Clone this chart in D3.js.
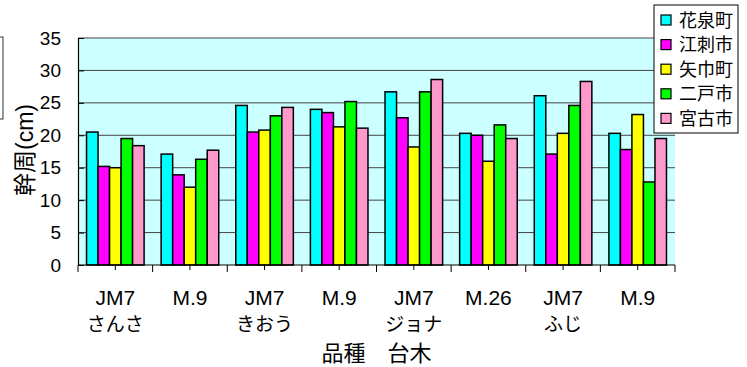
<html>
<head>
<meta charset="utf-8">
<script src="https://d3js.org/d3.v7.min.js"></script>
<style>
  body { margin: 0; background: #fff; }
  text { font-family: "Liberation Sans", "Noto Sans CJK JP", sans-serif; fill: #000; }
</style>
</head>
<body>
<svg id="chart" width="747" height="367"></svg>
<script>
// categories: rootstock (line 1) and variety (line 2)
var rootstocks = ["JM7", "M.9", "JM7", "M.9", "JM7", "M.26", "JM7", "M.9"];
var varieties  = ["さんさ", "", "きおう", "", "ジョナ", "", "ふじ", ""];
var seriesNames = ["花泉町", "江刺市", "矢巾町", "二戸市", "宮古市"];
var seriesColors = ["#00ffff", "#ff00ff", "#ffff00", "#00ff00", "#ff99cc"];

var hanaizumi = [20.5, 17.1, 24.6, 24.0, 26.7, 20.3, 26.1, 20.3];
var esashi    = [15.2, 13.9, 20.5, 23.5, 22.7, 20.0, 17.1, 17.8];
var yahaba    = [15.0, 12.0, 20.8, 21.3, 18.2, 16.0, 20.3, 23.2];
var ninohe    = [19.5, 16.3, 23.0, 25.2, 26.7, 21.6, 24.6, 12.8];
var miyako    = [18.4, 17.7, 24.3, 21.1, 28.6, 19.5, 28.3, 19.5];

var yTicks = [0, 5, 10, 15, 20, 25, 30, 35];

var seriesValues = [hanaizumi, esashi, yahaba, ninohe, miyako];
var catIdx = d3.range(rootstocks.length);

var svg = d3.select("#chart");
var plotLeft = 78, plotRight = 675, plotTop = 38, plotBottom = 265;

var x0 = d3.scaleBand().domain(catIdx).range([plotLeft, plotRight]).paddingInner(0).paddingOuter(0);
var x1 = d3.scaleBand().domain(d3.range(seriesNames.length)).range([0, x0.bandwidth()]).paddingInner(0).paddingOuter(0.74);
var y = d3.scaleLinear().domain([0, 35]).range([plotBottom, plotTop]);

// clipped box at far left
svg.append("rect")
  .attr("x", -10).attr("y", 37)
  .attr("width", 13).attr("height", 82)
  .attr("fill", "#fff").attr("stroke", "#333").attr("stroke-width", 1);

// plot background
svg.append("rect")
  .attr("x", plotLeft).attr("y", plotTop)
  .attr("width", plotRight - plotLeft).attr("height", plotBottom - plotTop)
  .attr("fill", "#ccffff");

// gridlines
svg.append("g")
  .selectAll("line")
  .data(yTicks.filter(function(d) { return d > 0; }))
  .enter().append("line")
    .attr("x1", plotLeft).attr("x2", plotRight)
    .attr("y1", function(d) { return y(d); })
    .attr("y2", function(d) { return y(d); })
    .attr("stroke", "#444")
    .attr("stroke-width", 1);

// bars
svg.append("g")
  .selectAll("g")
  .data(seriesValues)
  .enter().append("g")
    .attr("fill", function(d, i) { return seriesColors[i]; })
    .each(function(vals, si) {
      d3.select(this).selectAll("rect")
        .data(vals)
        .enter().append("rect")
          .attr("x", function(d, ci) { return x0(ci) + x1(si); })
          .attr("y", function(d) { return y(d); })
          .attr("width", x1.bandwidth())
          .attr("height", function(d) { return y(0) - y(d); })
          .attr("stroke", "#000")
          .attr("stroke-width", 1.5);
    });

// y axis
svg.append("g")
  .attr("transform", "translate(" + plotLeft + ",0)")
  .call(d3.axisLeft(y).tickValues(yTicks).tickSize(-6).tickPadding(17))
  .call(function(g) {
    g.select(".domain").attr("stroke", "#000").attr("stroke-width", 1.2);
    g.selectAll(".tick line").attr("stroke", "#000");
    g.selectAll(".tick text")
      .attr("font-size", "19px")
      .attr("font-family", "Liberation Sans, sans-serif");
  });

// x axis: long ticks at boundaries, short at centers
var xAxis = svg.append("g");
xAxis.append("line")
  .attr("x1", plotLeft).attr("x2", plotRight)
  .attr("y1", plotBottom).attr("y2", plotBottom)
  .attr("stroke", "#000").attr("stroke-width", 1.2);
var bounds = catIdx.map(function(i) { return x0(i); }).concat([plotRight]);
xAxis.selectAll("line.major")
  .data(bounds)
  .enter().append("line")
    .attr("class", "major")
    .attr("x1", function(d) { return d; }).attr("x2", function(d) { return d; })
    .attr("y1", plotBottom).attr("y2", plotBottom + 7)
    .attr("stroke", "#000");
xAxis.selectAll("line.minor")
  .data(catIdx)
  .enter().append("line")
    .attr("class", "minor")
    .attr("x1", function(d) { return x0(d) + x0.bandwidth() / 2; })
    .attr("x2", function(d) { return x0(d) + x0.bandwidth() / 2; })
    .attr("y1", plotBottom).attr("y2", plotBottom + 5)
    .attr("stroke", "#000");

// category labels
xAxis.selectAll("text.root")
  .data(catIdx)
  .enter().append("text")
    .attr("class", "root")
    .attr("x", function(d) { return x0(d) + x0.bandwidth() / 2; })
    .attr("y", 305)
    .attr("text-anchor", "middle")
    .attr("font-size", "21px")
    .text(function(d) { return rootstocks[d]; });
xAxis.selectAll("text.variety")
  .data(catIdx)
  .enter().append("text")
    .attr("class", "variety")
    .attr("x", function(d) { return x0(d) + x0.bandwidth() / 2; })
    .attr("y", 331)
    .attr("text-anchor", "middle")
    .attr("font-size", "19px")
    .text(function(d) { return varieties[d]; });

// axis titles
svg.append("text")
  .attr("x", (plotLeft + plotRight) / 2)
  .attr("y", 361)
  .attr("text-anchor", "middle")
  .attr("font-size", "22px")
  .text("品種　台木");

svg.append("text")
  .attr("transform", "translate(33,150) rotate(-90)")
  .attr("text-anchor", "middle")
  .attr("font-size", "23px")
  .text("幹周(cm)");

// legend
var legend = svg.append("g");
legend.append("rect")
  .attr("x", 654).attr("y", 5)
  .attr("width", 84).attr("height", 128)
  .attr("fill", "#fff").attr("stroke", "#000").attr("stroke-width", 1);
var items = legend.selectAll("g.item")
  .data(seriesNames)
  .enter().append("g")
    .attr("class", "item")
    .attr("transform", function(d, i) { return "translate(0," + (20 + i * 24.6) + ")"; });
items.append("rect")
  .attr("x", 661).attr("y", -5)
  .attr("width", 10).attr("height", 10)
  .attr("fill", function(d, i) { return seriesColors[i]; })
  .attr("stroke", "#000").attr("stroke-width", 1.2);
items.append("text")
  .attr("x", 679).attr("y", 6.5)
  .attr("font-size", "18px")
  .text(function(d) { return d; });
</script>
</body>
</html>
